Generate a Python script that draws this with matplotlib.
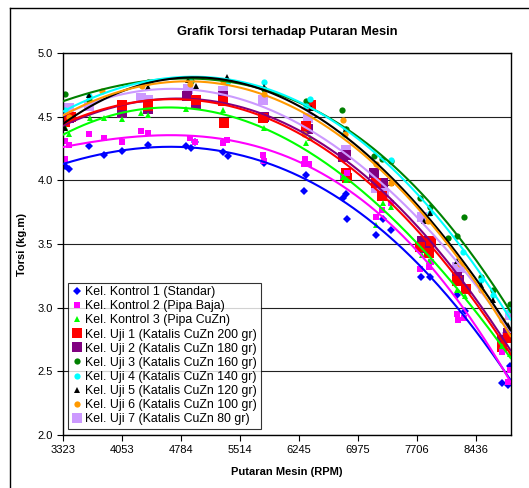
import matplotlib
matplotlib.use("Agg")
import matplotlib.pyplot as plt
from matplotlib.lines import Line2D
import numpy as np

plt.rcParams['font.family'] = ['Liberation Sans', 'DejaVu Sans']

# data (RPM, torque kg.m)
k1_rpm = [3351, 3393, 3648, 3825, 4051, 4372, 4853, 4906, 4964, 5306, 5368, 5812, 6313, 6334,
          6787, 6828, 6840, 7198, 7293, 7392, 7762, 7876, 8206, 8308, 8761, 8843, 8864]
k1_tor = [4.11, 4.09, 4.27, 4.20, 4.23, 4.28, 4.27, 4.25, 4.30, 4.22, 4.19, 4.14, 3.92, 4.04,
          3.86, 3.89, 3.70, 3.57, 3.70, 3.61, 3.24, 3.24, 3.10, 2.97, 2.41, 2.39, 2.54]

k2_rpm = [3344, 3351, 3393, 3648, 3825, 4051, 4289, 4372, 4894, 4956, 5306, 5359, 5800, 5812,
          6305, 6322, 6375, 6787, 6840, 7198, 7280, 7383, 7753, 7856, 7885, 8206, 8214, 8296,
          8761, 8843, 8864]
k2_tor = [4.17, 4.31, 4.28, 4.36, 4.33, 4.30, 4.39, 4.37, 4.33, 4.30, 4.29, 4.32, 4.20, 4.15,
          4.13, 4.17, 4.13, 4.03, 4.06, 3.71, 3.77, 3.82, 3.30, 3.32, 3.36, 2.95, 2.90, 2.92,
          2.65, 2.42, 2.51]

k3_rpm = [3351, 3393, 3660, 3825, 4051, 4289, 4372, 4853, 5306, 5812, 6334, 6387, 6787, 6828,
          7198, 7293, 7383, 7774, 7856, 8206, 8308, 8761, 8864]
k3_tor = [4.42, 4.36, 4.49, 4.49, 4.48, 4.53, 4.51, 4.56, 4.55, 4.41, 4.29, 4.33, 4.03, 4.00,
          3.65, 3.82, 3.79, 3.41, 3.37, 3.14, 3.09, 2.70, 2.64]

u1_rpm = [3351, 3425, 4051, 4372, 4976, 5306, 5318, 5807, 6334, 6396, 6828, 6840, 7198, 7280,
          7753, 7856, 7885, 8210, 8321, 8761, 8843]
u1_tor = [4.46, 4.50, 4.59, 4.58, 4.63, 4.62, 4.45, 4.49, 4.43, 4.59, 4.06, 4.02, 3.98, 3.88,
          3.48, 3.43, 3.52, 3.21, 3.15, 2.69, 2.76]

u2_rpm = [3351, 3393, 4051, 4372, 4865, 4968, 5306, 5812, 6355, 6787, 6828, 7177, 7284, 7776,
          7815, 7856, 8206, 8226, 8761, 8843]
u2_tor = [4.46, 4.49, 4.53, 4.56, 4.66, 4.60, 4.66, 4.50, 4.40, 4.18, 4.20, 4.06, 3.98, 3.52,
          3.47, 3.48, 3.24, 3.22, 2.75, 2.80]

u3_rpm = [3344, 3648, 4372, 4915, 5350, 5812, 6330, 6778, 6828, 7177, 7280, 7383, 7753, 7876,
          8100, 8206, 8296, 8500, 8650, 8864]
u3_tor = [4.68, 4.63, 4.77, 4.78, 4.77, 4.72, 4.62, 4.55, 4.40, 4.19, 4.17, 4.15, 3.86, 3.79,
          3.55, 3.56, 3.71, 3.24, 3.14, 3.03]

u4_rpm = [3351, 3650, 4289, 4900, 5350, 5812, 6334, 6387, 6800, 7383, 7876, 8286, 8500, 8650,
          8864]
u4_tor = [4.55, 4.66, 4.75, 4.78, 4.77, 4.77, 4.58, 4.64, 4.36, 4.16, 3.74, 3.44, 3.22, 3.10,
          2.98]

u5_rpm = [3351, 3648, 4372, 4866, 4968, 5359, 5812, 6396, 6830, 7383, 7795, 7876, 8206, 8500,
          8650, 8843]
u5_tor = [4.41, 4.67, 4.73, 4.79, 4.74, 4.81, 4.73, 4.57, 4.40, 3.98, 3.68, 3.74, 3.37, 3.18,
          3.06, 2.86]

u6_rpm = [3393, 3804, 4300, 4900, 5306, 5812, 6305, 6787, 6816, 7200, 7383, 7850, 8246, 8500,
          8761]
u6_tor = [4.50, 4.70, 4.74, 4.76, 4.78, 4.68, 4.36, 4.47, 4.36, 4.13, 3.98, 3.68, 3.34, 3.14,
          2.90]

u7_rpm = [3351, 3393, 3648, 4289, 4372, 4874, 5306, 5800, 6355, 6828, 7198, 7300, 7774, 8206,
          8246, 8822, 8864]
u7_tor = [4.55, 4.57, 4.58, 4.65, 4.63, 4.72, 4.70, 4.63, 4.49, 4.24, 3.94, 3.90, 3.71, 3.32,
          3.31, 2.77, 2.94]

labels = ["Kel. Kontrol 1 (Standar)", "Kel. Kontrol 2 (Pipa Baja)", "Kel. Kontrol 3 (Pipa CuZn)",
          "Kel. Uji 1 (Katalis CuZn 200 gr)", "Kel. Uji 2 (Katalis CuZn 180 gr)",
          "Kel. Uji 3 (Katalis CuZn 160 gr)", "Kel. Uji 4 (Katalis CuZn 140 gr)",
          "Kel. Uji 5 (Katalis CuZn 120 gr)", "Kel. Uji 6 (Katalis CuZn 100 gr)",
          "Kel. Uji 7 (Katalis CuZn 80 gr)"]
x_ticks = [3323, 4053, 4784, 5514, 6245, 6975, 7706, 8436]

series = [(k1_rpm, k1_tor), (k2_rpm, k2_tor), (k3_rpm, k3_tor), (u1_rpm, u1_tor), (u2_rpm, u2_tor),
          (u3_rpm, u3_tor), (u4_rpm, u4_tor), (u5_rpm, u5_tor), (u6_rpm, u6_tor), (u7_rpm, u7_tor)]
colors = ['#0000FF', '#FF00FF', '#00FF00', '#FF0000', '#800080',
          '#008000', '#00FFFF', '#000000', '#FF9900', '#CC99FF']
markers = ['D', 's', '^', 's', 's', 'o', 'o', '^', 'o', 's']
msizes = [4, 4.5, 5, 6.5, 6.5, 4.5, 4.5, 5, 4.5, 7.5]

fig = plt.figure(figsize=(5.29, 4.88), dpi=100)
ax = fig.add_axes([0.1191, 0.1086, 0.8469, 0.7828])

# scatter points first (lavender big squares at the back)
order = [9, 4, 3, 0, 1, 2, 5, 6, 7, 8]
for i in order:
    xs, ys = series[i]
    ax.plot(xs, ys, linestyle='none', marker=markers[i], color=colors[i],
            markersize=msizes[i], markeredgewidth=0, zorder=2)

# polynomial trendlines
xx = np.linspace(3330, 8870, 200)
for i in order:
    xs, ys = series[i]
    p = np.polyfit(xs, ys, 3)
    ax.plot(xx, np.polyval(p, xx), color=colors[i], linewidth=1.5, zorder=3)

ax.set_xlim(3323, 8875)
ax.set_ylim(2.0, 5.0)
ax.set_xticks(x_ticks)
ax.set_xticklabels([str(t) for t in x_ticks])
ax.set_yticks(np.arange(2.0, 5.01, 0.5))
ax.set_yticklabels(["%.1f" % v for v in np.arange(2.0, 5.01, 0.5)])
ax.tick_params(direction='out', length=4, width=0.8, labelsize=8, color='black')
ax.grid(axis='y', color='#222222', linewidth=0.8)
ax.set_axisbelow(True)
for s in ax.spines.values():
    s.set_linewidth(1.0)
    s.set_color('black')

ax.set_title("Grafik Torsi terhadap Putaran Mesin", fontsize=9.3, fontweight='bold', pad=13)
ax.set_xlabel("Putaran Mesin (RPM)", fontsize=8, fontweight='bold', labelpad=8)
ax.set_ylabel("Torsi (kg.m)", fontsize=8, fontweight='bold', labelpad=7)

handles = [Line2D([], [], linestyle='none', marker=markers[i], color=colors[i],
                  markersize=msizes[i], markeredgewidth=0) for i in range(10)]
leg = ax.legend(handles, labels, loc='lower left', bbox_to_anchor=(0.012, 0.016),
                fontsize=8.9, frameon=True, fancybox=False, borderpad=0.3,
                labelspacing=0.17, handlelength=0.8, handletextpad=0.25, borderaxespad=0)
leg.get_frame().set_edgecolor('black')
leg.get_frame().set_linewidth(0.8)
leg.set_zorder(5)

# chart area border (left and top)
fig.add_artist(Line2D([0.0189, 0.0189], [0, 0.9836], color='black', linewidth=1.0))
fig.add_artist(Line2D([0.0189, 1.0], [0.9836, 0.9836], color='black', linewidth=1.0))

fig.savefig("out.png", dpi=100)
